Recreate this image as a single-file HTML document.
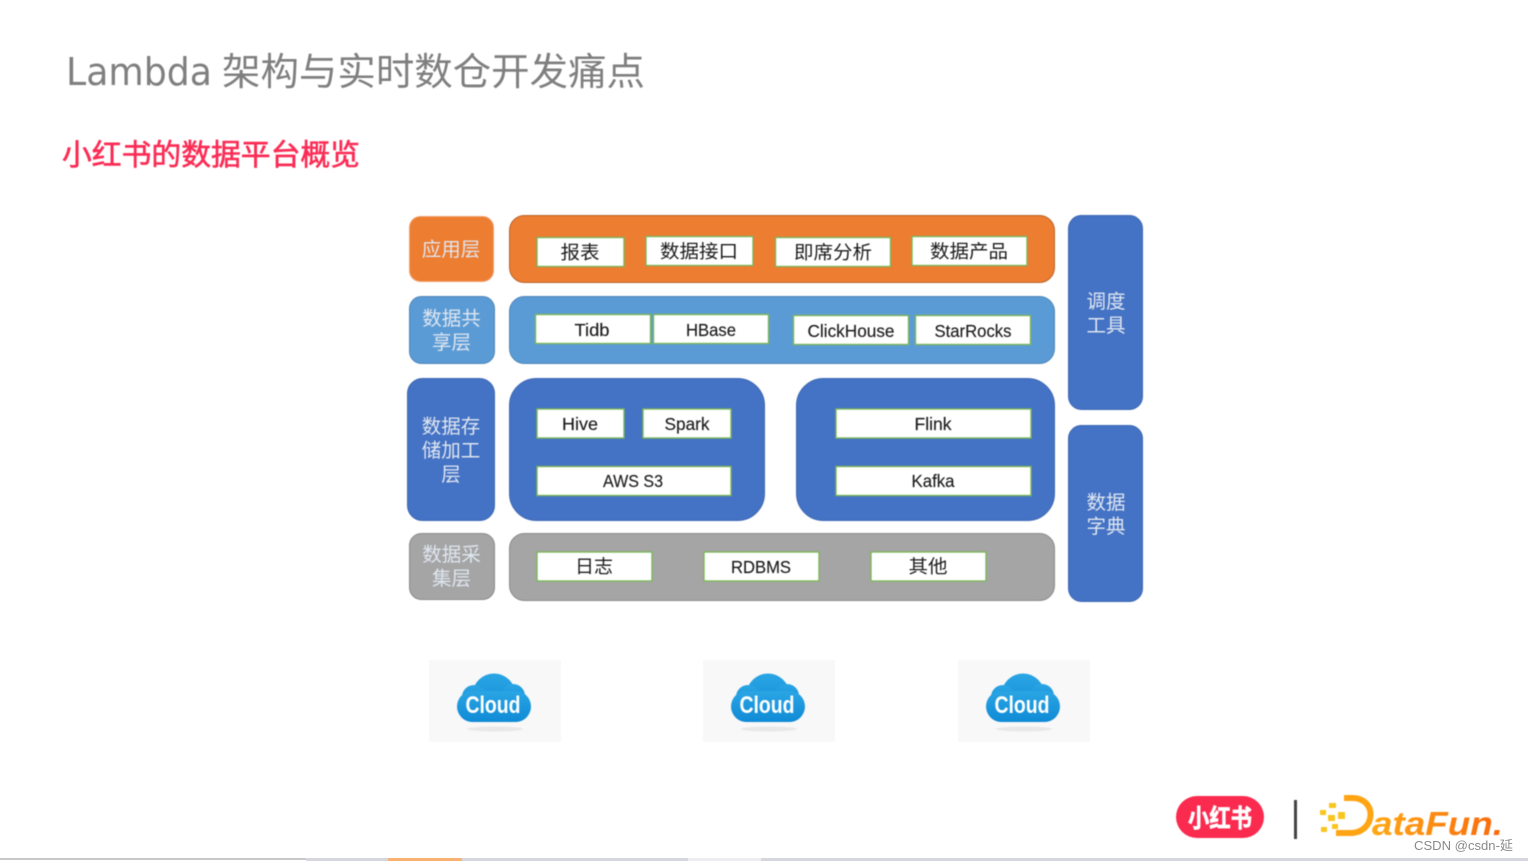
<!DOCTYPE html>
<html lang="zh">
<head>
<meta charset="utf-8">
<style>
html,body{margin:0;padding:0;background:#fff;width:1528px;height:861px;overflow:hidden}
svg{display:block}
text{font-family:"Liberation Sans","Noto Sans CJK SC",sans-serif}
.soft{filter:blur(0.4px)}
.box{fill:#fff;stroke:#7db65a;stroke-width:1.4}
.t{font-size:18.5px;fill:#1c1c1c;text-anchor:middle}
.l{font-size:17.5px;fill:#1c1c1c;text-anchor:middle;stroke:#1c1c1c;stroke-width:.15px}
.w{font-size:19.5px;fill:#dfe6f0;text-anchor:middle}
</style>
</head>
<body>
<svg width="1528" height="861" viewBox="0 0 1528 861" xmlns="http://www.w3.org/2000/svg">
<defs>
<linearGradient id="cg" x1="0" y1="0" x2="0" y2="1"><stop offset="0" stop-color="#2aa5e4"/><stop offset="1" stop-color="#0f8ad6"/></linearGradient>
<linearGradient id="dg" x1="0" y1="0" x2="1" y2="0"><stop offset="0" stop-color="#ffa814"/><stop offset="1" stop-color="#f9680c"/></linearGradient>
<g id="cloud">
<rect x="0" y="0" width="132" height="82" fill="#f8f8f8"/>
<ellipse cx="66" cy="69" rx="28" ry="2.500" fill="#e8e8e8"/>
<g fill="url(#cg)">
<circle cx="65" cy="35" r="21.500"/>
<circle cx="45" cy="37" r="12"/>
<circle cx="84" cy="36" r="12"/>
<rect x="28" y="31" width="74" height="31" rx="15.500"/>
</g>
<text x="64" y="53" font-size="24" font-weight="bold" fill="#fff" text-anchor="middle" textLength="55" lengthAdjust="spacingAndGlyphs">Cloud</text>
</g>
</defs>

<rect width="1528" height="861" fill="#fff"/>
<g class="soft">
<text x="66" y="85" font-size="38" fill="#7f7f7f" style="font-family:'DejaVu Sans',sans-serif" textLength="146" lengthAdjust="spacingAndGlyphs">Lambda</text>
<text x="222" y="85" font-size="38" fill="#7f7f7f" textLength="423" lengthAdjust="spacingAndGlyphs">架构与实时数仓开发痛点</text>
<text x="62" y="165" font-size="29.500" fill="#fb2c55" stroke="#fb2c55" stroke-width=".6" textLength="298" lengthAdjust="spacingAndGlyphs">小红书的数据平台概览</text>

<!-- left labels -->
<rect x="409.500" y="216.500" width="84" height="65" rx="11" fill="#ed7d31" stroke="#f0a070"/>
<text class="w" x="451" y="256">应用层</text>
<rect x="409.500" y="296.500" width="85" height="67" rx="12" fill="#5b9bd5" stroke="#4f87ba"/>
<text class="w" x="451.500" y="325">数据共</text>
<text class="w" x="451.500" y="349">享层</text>
<rect x="407.500" y="378.500" width="87" height="142" rx="15" fill="#4472c4" stroke="#3f69b4"/>
<text class="w" x="451" y="433">数据存</text>
<text class="w" x="451" y="457">储加工</text>
<text class="w" x="451" y="481">层</text>
<rect x="409.500" y="533.500" width="85" height="66" rx="12" fill="#a5a5a5" stroke="#8a8a8a"/>
<text class="w" x="451.500" y="561">数据采</text>
<text class="w" x="451.500" y="585">集层</text>

<!-- main bands -->
<rect x="509.500" y="215.500" width="545" height="67" rx="15" fill="#ed7d31" stroke="#b9652c"/>
<rect x="509.500" y="296.500" width="545" height="67" rx="15" fill="#5b9bd5" stroke="#4f87ba"/>
<rect x="509.500" y="378.500" width="255" height="142" rx="27" fill="#4472c4" stroke="#3f69b4"/>
<rect x="796.500" y="378.500" width="258" height="142" rx="27" fill="#4472c4" stroke="#3f69b4"/>
<rect x="509.500" y="533.500" width="545" height="67" rx="15" fill="#a5a5a5" stroke="#8a8a8a"/>

<!-- right columns -->
<rect x="1068.500" y="215.500" width="74" height="194" rx="13" fill="#4472c4" stroke="#3f69b4"/>
<text class="w" x="1106" y="308">调度</text>
<text class="w" x="1106" y="332">工具</text>
<rect x="1068.500" y="425.500" width="74" height="176" rx="13" fill="#4472c4" stroke="#3f69b4"/>
<text class="w" x="1106" y="509">数据</text>
<text class="w" x="1106" y="533">字典</text>

<!-- app -->
<rect class="box" x="537" y="237.500" width="87" height="29"/><text class="t" x="580" y="259" textLength="39" lengthAdjust="spacingAndGlyphs">报表</text>
<rect class="box" x="646" y="236.500" width="107" height="29"/><text class="t" x="699" y="258" textLength="78" lengthAdjust="spacingAndGlyphs">数据接口</text>
<rect class="box" x="775.500" y="237.500" width="115" height="29"/><text class="t" x="833" y="259" textLength="78" lengthAdjust="spacingAndGlyphs">即席分析</text>
<rect class="box" x="912" y="236.500" width="115" height="29"/><text class="t" x="969" y="258" textLength="78" lengthAdjust="spacingAndGlyphs">数据产品</text>

<!-- share -->
<rect class="box" x="535.500" y="314.500" width="115" height="29"/><text class="l" x="592" y="336" textLength="35" lengthAdjust="spacingAndGlyphs">Tidb</text>
<rect class="box" x="653.500" y="314.500" width="115" height="29"/><text class="l" x="711" y="336" textLength="50" lengthAdjust="spacingAndGlyphs">HBase</text>
<rect class="box" x="793.500" y="315.500" width="115" height="29"/><text class="l" x="851" y="337" textLength="87" lengthAdjust="spacingAndGlyphs">ClickHouse</text>
<rect class="box" x="915.500" y="315.500" width="115" height="29"/><text class="l" x="973" y="337" textLength="77" lengthAdjust="spacingAndGlyphs">StarRocks</text>

<!-- storage -->
<rect class="box" x="537" y="409" width="87" height="29"/><text class="l" x="580" y="430" textLength="36" lengthAdjust="spacingAndGlyphs">Hive</text>
<rect class="box" x="643" y="409" width="88" height="29"/><text class="l" x="687" y="430" textLength="45" lengthAdjust="spacingAndGlyphs">Spark</text>
<rect class="box" x="537" y="466.500" width="194" height="29"/><text class="l" x="633" y="487" textLength="60" lengthAdjust="spacingAndGlyphs">AWS S3</text>
<rect class="box" x="836" y="409" width="195" height="29"/><text class="l" x="933" y="430" textLength="37" lengthAdjust="spacingAndGlyphs">Flink</text>
<rect class="box" x="836" y="466.500" width="195" height="29"/><text class="l" x="933" y="487" textLength="43" lengthAdjust="spacingAndGlyphs">Kafka</text>

<!-- collect -->
<rect class="box" x="537" y="552" width="115" height="29"/><text class="t" x="594" y="573" textLength="38" lengthAdjust="spacingAndGlyphs">日志</text>
<rect class="box" x="704" y="552" width="115" height="29"/><text class="l" x="761" y="573" textLength="60" lengthAdjust="spacingAndGlyphs">RDBMS</text>
<rect class="box" x="871" y="552" width="115" height="29"/><text class="t" x="928" y="573" textLength="39" lengthAdjust="spacingAndGlyphs">其他</text>

<!-- clouds -->
<use href="#cloud" x="429" y="660"/>
<use href="#cloud" x="703" y="660"/>
<use href="#cloud" x="958" y="660"/>

<!-- logos -->
<rect x="1176" y="796" width="88" height="42" rx="21" fill="#fb2a4f"/>
<text x="1220" y="827" font-size="25" font-weight="bold" fill="#fff" text-anchor="middle" textLength="64" lengthAdjust="spacingAndGlyphs" stroke="#fff" stroke-width=".7">小红书</text>
<rect x="1294" y="800" width="3" height="39" fill="#444"/>
<g fill="#f9c51f">
<rect x="1320" y="810" width="6" height="5"/>
<rect x="1329" y="803" width="7" height="5"/>
<rect x="1328" y="815" width="7" height="6"/>
<rect x="1338" y="812" width="7" height="7"/>
<rect x="1321" y="827" width="6" height="5"/>
<rect x="1332" y="824" width="6" height="5"/>
</g>
<path d="M1344 798 H1352 C1378 798 1376 833 1350 833 H1336" fill="none" stroke="#ffa412" stroke-width="6"/>
<text x="1372" y="835" font-size="33" font-weight="bold" font-style="italic" fill="url(#dg)" textLength="131" lengthAdjust="spacingAndGlyphs">ataFun.</text>
</g>
<text x="1414" y="850" font-size="13" fill="#8a8a8a" textLength="99" lengthAdjust="spacingAndGlyphs">CSDN @csdn-延</text>

<!-- bottom bar -->
<rect x="0" y="858" width="1528" height="3" fill="#d6d6de"/>
<rect x="0" y="858" width="306" height="2" fill="#c8c8c8"/>
<rect x="0" y="860" width="306" height="1" fill="#fff"/>
<rect x="388" y="858" width="74" height="3" fill="#f9b272"/>
<rect x="688" y="858" width="73" height="3" fill="#ededf1"/>
</svg>
</body>
</html>
